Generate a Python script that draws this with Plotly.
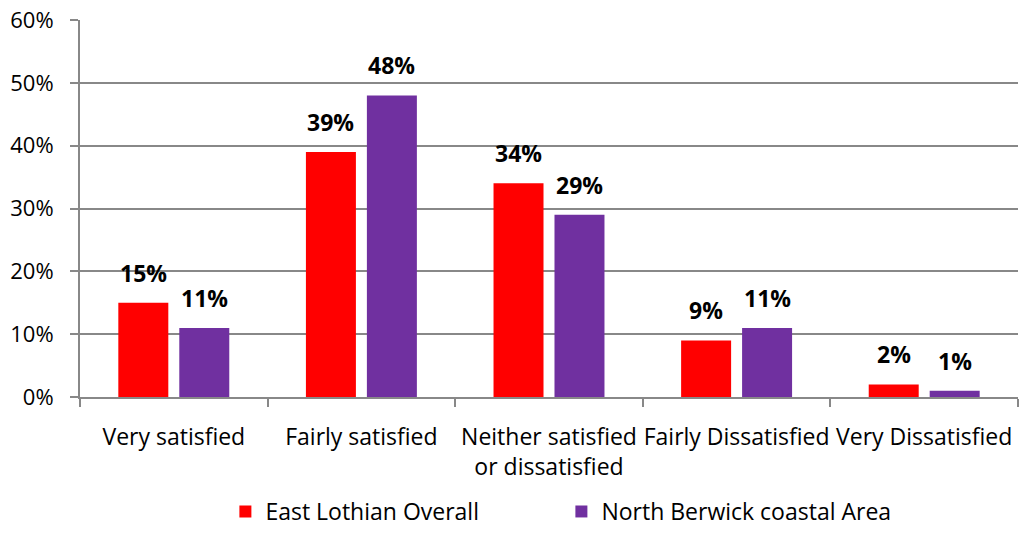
import plotly.graph_objects as go

categories = ["Very satisfied", "Fairly satisfied", "Neither satisfied<br>or dissatisfied",
              "Fairly Dissatisfied", "Very Dissatisfied"]
east_lothian = [0.15, 0.39, 0.34, 0.09, 0.02]
north_berwick = [0.11, 0.48, 0.29, 0.11, 0.01]
series_names = ["East Lothian Overall", "North Berwick coastal Area"]
colors = ["#FF0000", "#7030A0"]

FONT = "Open Sans"
FS = 22

fig = go.Figure()
for name, vals, col in zip(series_names, [east_lothian, north_berwick], colors):
    fig.add_trace(go.Bar(
        x=categories, y=vals, name=name, marker=dict(color=col, line=dict(width=0)),
    ))

# value labels placed above each bar
for i, vals in enumerate([east_lothian, north_berwick]):
    shift = -30.5 if i == 0 else 30.5
    for c, v in zip(categories, vals):
        fig.add_annotation(x=c, y=v, xref="x", yref="y", text=f"<b>{round(v*100)}%</b>",
                           showarrow=False, xshift=shift, yshift=12, yanchor="bottom",
                           font=dict(family=FONT, size=23, color="#000000"))

fig.update_layout(
    width=1019, height=533,
    margin=dict(l=80, r=1, t=20, b=136),
    paper_bgcolor="white", plot_bgcolor="white",
    barmode="group", bargap=0.35, bargroupgap=0.18,
    font=dict(family=FONT, size=FS, color="#000000"),
    showlegend=True,
    legend=dict(orientation="h", x=0.155, xanchor="left", xref="paper",
                y=0, yref="container", yanchor="bottom",
                font=dict(family=FONT, size=23), traceorder="normal",
                entrywidth=291, itemwidth=30),
    xaxis=dict(showline=True, linecolor="#888888", linewidth=2, ticks="outside",
               tickson="boundaries", ticklen=8, tickcolor="#888888", tickwidth=2,
               tickfont=dict(family=FONT, size=23), showgrid=False, tickangle=0,
               automargin=False, ticklabelstandoff=18),
    yaxis=dict(range=[0, 0.6], dtick=0.1, tickformat=".0%", showline=True,
               linecolor="#888888", linewidth=2, ticks="outside", ticklen=8,
               tickcolor="#888888", tickwidth=2, showgrid=True, gridcolor="#888888",
               gridwidth=2, tickfont=dict(family=FONT, size=FS), zeroline=False,
               automargin=False, ticklabelstandoff=12),
)

fig.write_html("out.html", config={"displayModeBar": False},
               post_script="document.body.style.margin='0';")
